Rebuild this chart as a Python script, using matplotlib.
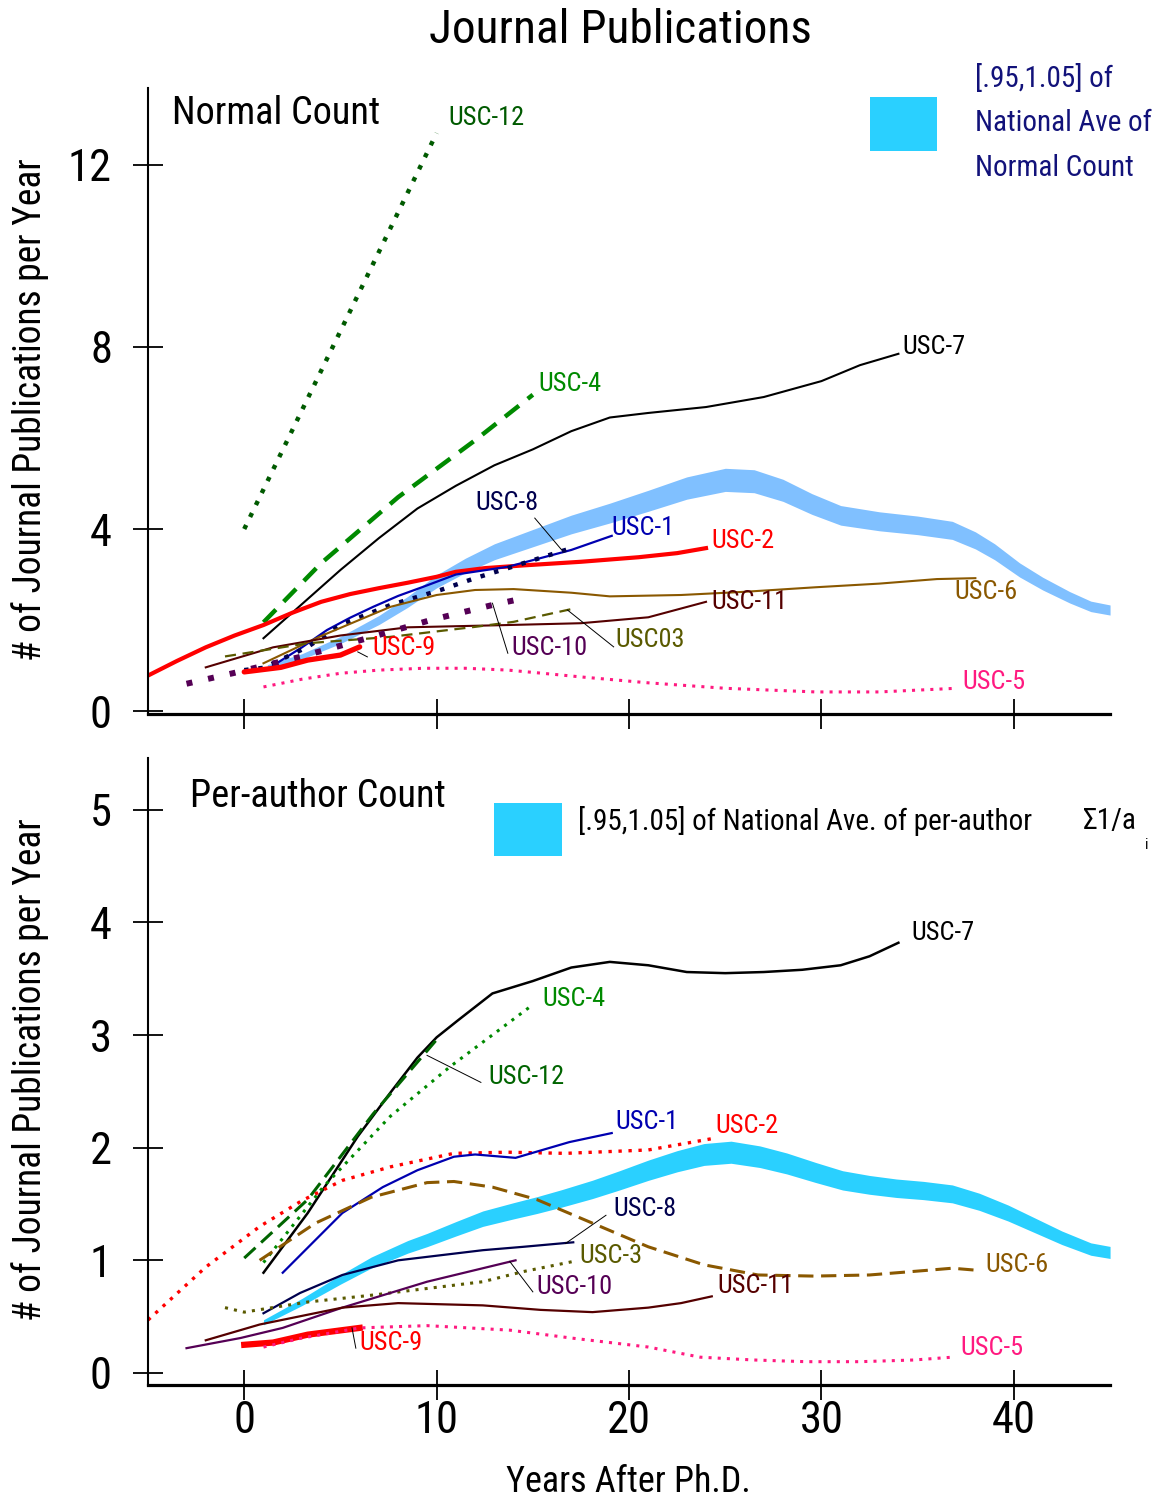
import matplotlib
matplotlib.use("Agg")
import matplotlib.pyplot as plt
import numpy as np

plt.rcParams["font.family"] = ["Roboto Condensed", "Liberation Sans Narrow", "DejaVu Sans"]
plt.rcParams["font.stretch"] = "condensed"

# ---- Normal count (top panel) ----
nat_x = [1.2, 3, 5, 7, 8.5, 10, 11.5, 13, 15, 17, 19, 21, 23, 25, 26.5, 28, 29.5, 31, 33, 35, 36.8, 38, 39, 40.3, 41.5, 42.9, 44, 45]
nat_top = [0.97, 1.2, 1.56, 2.0, 2.4, 2.85, 3.2, 3.5, 3.8, 4.1, 4.35, 4.62, 4.9, 5.08, 5.05, 4.85, 4.55, 4.3, 4.17, 4.08, 3.97, 3.75, 3.5, 3.1, 2.8, 2.5, 2.3, 2.22]

t12_x = [0, 10]
t12_y = [4.0, 12.7]
t4_x = [1, 4, 8, 12, 15]
t4_y = [1.95, 3.25, 4.7, 5.95, 6.95]
t7_x = [1, 3, 5, 7, 9, 11, 13, 15, 17, 19, 21, 24, 27, 30, 32, 34]
t7_y = [1.6, 2.35, 3.1, 3.8, 4.45, 4.95, 5.4, 5.75, 6.15, 6.45, 6.55, 6.68, 6.9, 7.25, 7.6, 7.85]
t2_x = [-5, -3.5, -2, -0.5, 1, 2.5, 4, 5.5, 7, 8.5, 10, 11, 12.5, 14.5, 17.5, 20.5, 22.5, 24]
t2_y = [0.78, 1.1, 1.4, 1.66, 1.89, 2.16, 2.4, 2.57, 2.7, 2.82, 2.95, 3.06, 3.14, 3.2, 3.28, 3.38, 3.47, 3.58]
t1_x = [1.5, 3, 4.3, 5.5, 6.7, 8, 9.3, 11, 13.7, 17, 19.1]
t1_y = [1.0, 1.4, 1.78, 2.05, 2.29, 2.53, 2.73, 3.0, 3.17, 3.54, 3.85]
t8_x = [0, 1, 3.3, 5, 7.6, 10.2, 12, 13.7, 17]
t8_y = [0.9, 0.95, 1.41, 1.89, 2.33, 2.66, 2.92, 3.14, 3.58]
t6_x = [1, 4, 7.6, 10, 12, 14, 17, 19, 22.7, 26, 29.7, 33, 36, 38]
t6_y = [1.05, 1.65, 2.29, 2.55, 2.66, 2.68, 2.6, 2.52, 2.55, 2.62, 2.72, 2.8, 2.9, 2.92]
t11_x = [-2, 1.5, 5, 8.5, 13.7, 17.5, 21, 24]
t11_y = [0.96, 1.4, 1.66, 1.84, 1.89, 1.93, 2.06, 2.4]
t3_x = [-1, 3.3, 7.6, 12, 14, 17]
t3_y = [1.2, 1.49, 1.63, 1.85, 1.96, 2.24]
t10_x = [-3, -0.6, 2.9, 6.4, 9.7, 12.9, 14.1]
t10_y = [0.6, 0.83, 1.19, 1.6, 2.0, 2.33, 2.44]
t9_x = [0, 1.9, 3.3, 5, 6]
t9_y = [0.86, 0.96, 1.12, 1.23, 1.41]
t5_x = [1, 3, 5, 7, 9.3, 11.5, 13.7, 15.5, 17.5, 21, 25, 29.7, 33, 37]
t5_y = [0.53, 0.7, 0.83, 0.9, 0.94, 0.94, 0.9, 0.83, 0.75, 0.62, 0.5, 0.42, 0.42, 0.5]

# ---- Per-author count (bottom panel) ----
nat_bot_x = [1, 3, 5, 6.6, 8.5, 9.5, 11, 12.4, 14, 15.2, 16.5, 18.1, 19.5, 21, 22.5, 23.9, 25.3, 26.8, 28.2, 29.7, 31.1, 32.5, 33.9, 35.3, 36.8, 38.2, 39.7, 41.1, 42.5, 44, 45]
nat_bot = [0.45, 0.63, 0.83, 0.98, 1.12, 1.18, 1.28, 1.37, 1.44, 1.49, 1.55, 1.63, 1.71, 1.8, 1.88, 1.94, 1.96, 1.92, 1.86, 1.78, 1.71, 1.67, 1.64, 1.62, 1.59, 1.52, 1.42, 1.31, 1.2, 1.1, 1.07]

b7_x = [1, 3.3, 5.9, 7.6, 9, 10, 11.1, 12.9, 15, 17, 19, 21, 23, 25, 27, 29, 31, 32.5, 34]
b7_y = [0.89, 1.42, 2.1, 2.49, 2.8, 2.98, 3.13, 3.37, 3.48, 3.6, 3.65, 3.62, 3.56, 3.55, 3.56, 3.58, 3.62, 3.7, 3.82]
b12_x = [0, 3.3, 6.7, 10]
b12_y = [1.02, 1.54, 2.3, 2.96]
b4_x = [1, 4.1, 7.6, 10.7, 15]
b4_y = [0.98, 1.65, 2.28, 2.72, 3.27]
b2_x = [-5, -2, 0.8, 3, 5.1, 7.6, 10.9, 13.7, 16.7, 21, 24.3]
b2_y = [0.47, 0.94, 1.3, 1.53, 1.71, 1.83, 1.95, 1.96, 1.95, 1.98, 2.08]
b1_x = [2, 5.1, 7.2, 9, 10.9, 12, 14.1, 16.9, 19.1]
b1_y = [0.89, 1.42, 1.65, 1.8, 1.92, 1.94, 1.91, 2.05, 2.13]
b6_x = [0.8, 3.7, 6.6, 9.5, 10.9, 12.9, 15.2, 18.1, 21, 23.9, 26.7, 29.6, 32.5, 35.4, 36.8, 38.2]
b6_y = [1.0, 1.33, 1.56, 1.69, 1.7, 1.65, 1.54, 1.33, 1.12, 0.96, 0.87, 0.86, 0.87, 0.91, 0.93, 0.91]
b8_x = [1, 2.9, 5.1, 8, 12.4, 14.5, 17.1]
b8_y = [0.53, 0.71, 0.87, 1.0, 1.09, 1.12, 1.16]
b3_x = [-1, 0, 3.3, 6.6, 9.5, 12.4, 14.5, 17.1]
b3_y = [0.58, 0.54, 0.63, 0.69, 0.75, 0.81, 0.9, 0.99]
b10_x = [-3, -0.2, 2, 5.1, 9.5, 14.1]
b10_y = [0.22, 0.31, 0.4, 0.58, 0.81, 1.0]
b11_x = [-2, 0.8, 5.1, 8, 12.4, 15.4, 18.1, 21, 22.7, 24.3]
b11_y = [0.29, 0.43, 0.58, 0.62, 0.6, 0.56, 0.54, 0.58, 0.62, 0.68]
b9_x = [0, 1.5, 3.3, 6]
b9_y = [0.25, 0.27, 0.34, 0.4]
b5_x = [1, 3, 6, 9.5, 13.8, 17, 21, 23.7, 26.5, 29.2, 32, 34.8, 36.8]
b5_y = [0.23, 0.31, 0.4, 0.42, 0.38, 0.31, 0.23, 0.14, 0.115, 0.1, 0.1, 0.115, 0.14]

DGREEN = "#005a00"
GREEN = "#008a00"
BLUE = "#0000b0"
NAVY = "#00004e"
BROWN = "#8a5800"
MAROON = "#550000"
OLIVE = "#5a5a00"
PURPLE = "#550055"
PINK = "#ff1a80"
RED = "#ff0000"
CYAN = "#2ad0ff"
LBLUE = "#80c0ff"
LEG = "#12127a"

DOT = (0, (1, 2))


def style_axes(ax, ymax, yticks, ylo):
    ax.set_xlim(-5, 45)
    ax.set_ylim(ylo, ymax)
    for s in ("top", "right"):
        ax.spines[s].set_visible(False)
    ax.spines["left"].set_linewidth(1.5)
    ax.spines["bottom"].set_linewidth(2.3)
    ax.set_xticks([0, 10, 20, 30, 40])
    ax.set_yticks(yticks)
    ax.tick_params(direction="inout", length=22, width=1.3, labelsize=32)
    ax.tick_params(axis="y", pad=15)
    ax.tick_params(axis="x", pad=0)


def label(ax, x, y, s, color):
    ax.text(x, y, s, color=color, fontsize=19, va="center", ha="left")


def leader(ax, p0, p1):
    ax.plot([p0[0], p1[0]], [p0[1], p1[1]], color="black", lw=0.7, zorder=5)


fig = plt.figure(figsize=(11.62, 15.02), dpi=100)
ax1 = fig.add_axes([0.1274, 0.5246, 0.8279, 0.4168])
ax2 = fig.add_axes([0.1274, 0.0779, 0.8279, 0.4174])

# top panel
nt = np.array(nat_top)
ax1.fill_between(nat_x, nt * 0.95, nt * 1.05, color=LBLUE, lw=0, zorder=1)
ax1.plot(t12_x, t12_y, color=DGREEN, lw=3.2, ls=(0, (1, 2)))
ax1.plot(t4_x, t4_y, color=GREEN, lw=3.2, ls=(0, (4, 2.5)))
ax1.plot(t7_x, t7_y, color="black", lw=1.5)
ax1.plot(t2_x, t2_y, color=RED, lw=3.0)
ax1.plot(t1_x, t1_y, color=BLUE, lw=1.6)
ax1.plot(t8_x, t8_y, color=NAVY, lw=3.2, ls=(0, (1, 2.2)))
ax1.plot(t6_x, t6_y, color=BROWN, lw=1.5)
ax1.plot(t11_x, t11_y, color=MAROON, lw=1.5)
ax1.plot(t3_x, t3_y, color=OLIVE, lw=1.6, ls=(0, (5, 3)))
ax1.plot(t10_x, t10_y, color=PURPLE, lw=4.3, ls=(0, (1, 2.7)))
ax1.plot(t9_x, t9_y, color=RED, lw=3.8, solid_capstyle="round")
ax1.plot(t5_x, t5_y, color=PINK, lw=2.2, ls=DOT)

label(ax1, 10.6, 13.03, "USC-12", DGREEN)
label(ax1, 15.3, 7.19, "USC-4", GREEN)
label(ax1, 34.2, 8.0, "USC-7", "black")
label(ax1, 12.0, 4.57, "USC-8", NAVY)
label(ax1, 19.1, 4.02, "USC-1", BLUE)
label(ax1, 24.3, 3.74, "USC-2", RED)
label(ax1, 24.3, 2.4, "USC-11", MAROON)
label(ax1, 36.9, 2.62, "USC-6", BROWN)
label(ax1, 19.3, 1.56, "USC03", OLIVE)
label(ax1, 13.9, 1.38, "USC-10", PURPLE)
label(ax1, 6.65, 1.38, "USC-9", RED)
label(ax1, 37.35, 0.64, "USC-5", PINK)
leader(ax1, (15.1, 4.24), (16.5, 3.54))
leader(ax1, (12.9, 2.37), (13.7, 1.27))
leader(ax1, (16.8, 2.22), (19.2, 1.41))
leader(ax1, (5.9, 1.3), (6.4, 1.19))

style_axes(ax1, 13.69, [0, 4, 8, 12], -0.066)
ax1.set_xticklabels([])
ax1.text(0.025, 0.96, "Normal Count", transform=ax1.transAxes, fontsize=27.5, va="center", ha="left")
ax1.add_patch(plt.Rectangle((0.7505, 0.8994), 0.0696, 0.0863, transform=ax1.transAxes,
                            color=CYAN, lw=0, clip_on=False))
for yy, s in zip([1.016, 0.944, 0.872], ["[.95,1.05] of", "National Ave of", "Normal Count"]):
    ax1.text(0.8597, yy, s, transform=ax1.transAxes, fontsize=21, color=LEG,
             va="center", ha="left", clip_on=False)

# bottom panel
nb = np.array(nat_bot)
ax2.fill_between(nat_bot_x, nb * 0.95, nb * 1.05, color=CYAN, lw=0, zorder=1)
ax2.plot(b7_x, b7_y, color="black", lw=1.8)
ax2.plot(b12_x, b12_y, color="#006400", lw=2.2, ls=(0, (5, 2.5)))
ax2.plot(b4_x, b4_y, color=GREEN, lw=2.2, ls=DOT)
ax2.plot(b2_x, b2_y, color=RED, lw=2.4, ls=DOT)
ax2.plot(b1_x, b1_y, color=BLUE, lw=1.6)
ax2.plot(b6_x, b6_y, color=BROWN, lw=2.2, ls=(0, (5, 2.5)))
ax2.plot(b8_x, b8_y, color=NAVY, lw=1.6)
ax2.plot(b3_x, b3_y, color=OLIVE, lw=2.2, ls=DOT)
ax2.plot(b10_x, b10_y, color=PURPLE, lw=1.6)
ax2.plot(b11_x, b11_y, color=MAROON, lw=1.6)
ax2.plot(b9_x, b9_y, color=RED, lw=4.5)
ax2.plot(b5_x, b5_y, color=PINK, lw=2.2, ls=DOT)

label(ax2, 34.65, 3.91, "USC-7", "black")
label(ax2, 15.5, 3.32, "USC-4", GREEN)
label(ax2, 12.7, 2.63, "USC-12", "#006400")
label(ax2, 19.3, 2.23, "USC-1", BLUE)
label(ax2, 24.5, 2.19, "USC-2", RED)
label(ax2, 19.2, 1.46, "USC-8", NAVY)
label(ax2, 17.4, 1.04, "USC-3", OLIVE)
label(ax2, 15.2, 0.76, "USC-10", PURPLE)
label(ax2, 24.6, 0.77, "USC-11", MAROON)
label(ax2, 38.5, 0.96, "USC-6", BROWN)
label(ax2, 6.0, 0.27, "USC-9", RED)
label(ax2, 37.2, 0.22, "USC-5", PINK)
leader(ax2, (9.5, 2.82), (12.3, 2.58))
leader(ax2, (16.7, 1.15), (18.8, 1.4))
leader(ax2, (13.8, 0.99), (15.0, 0.72))
leader(ax2, (5.6, 0.4), (5.8, 0.22))

style_axes(ax2, 5.46, [0, 1, 2, 3, 4, 5], -0.107)
ax2.text(0.0437, 0.939, "Per-author Count", transform=ax2.transAxes, fontsize=27.5, va="center", ha="left")
ax2.add_patch(plt.Rectangle((0.3597, 0.8437), 0.0707, 0.0845, transform=ax2.transAxes,
                            color=CYAN, lw=0, clip_on=False))
ax2.text(0.447, 0.8995, "[.95,1.05] of National Ave. of per-author", transform=ax2.transAxes,
         fontsize=21, va="center", ha="left")
ax2.text(0.972, 0.8995, "\u03a31/a", transform=ax2.transAxes, fontsize=21, va="center", ha="left",
         clip_on=False)
ax2.text(1.036, 0.862, "i", transform=ax2.transAxes, fontsize=11, va="center", ha="left", clip_on=False)

fig.text(620 / 1162, 1 - 30 / 1502, "Journal Publications", fontsize=34, ha="center", va="center")
fig.text(30 / 1162, 1 - 410 / 1502, "# of Journal Publications per Year", fontsize=27,
         rotation=90, ha="center", va="center")
fig.text(30 / 1162, 1 - 1070 / 1502, "# of Journal Publications per Year", fontsize=27,
         rotation=90, ha="center", va="center")
fig.text(628 / 1162, 1 - 1482 / 1502, "Years After Ph.D.", fontsize=26, ha="center", va="center")

fig.savefig("out.png", dpi=100)
